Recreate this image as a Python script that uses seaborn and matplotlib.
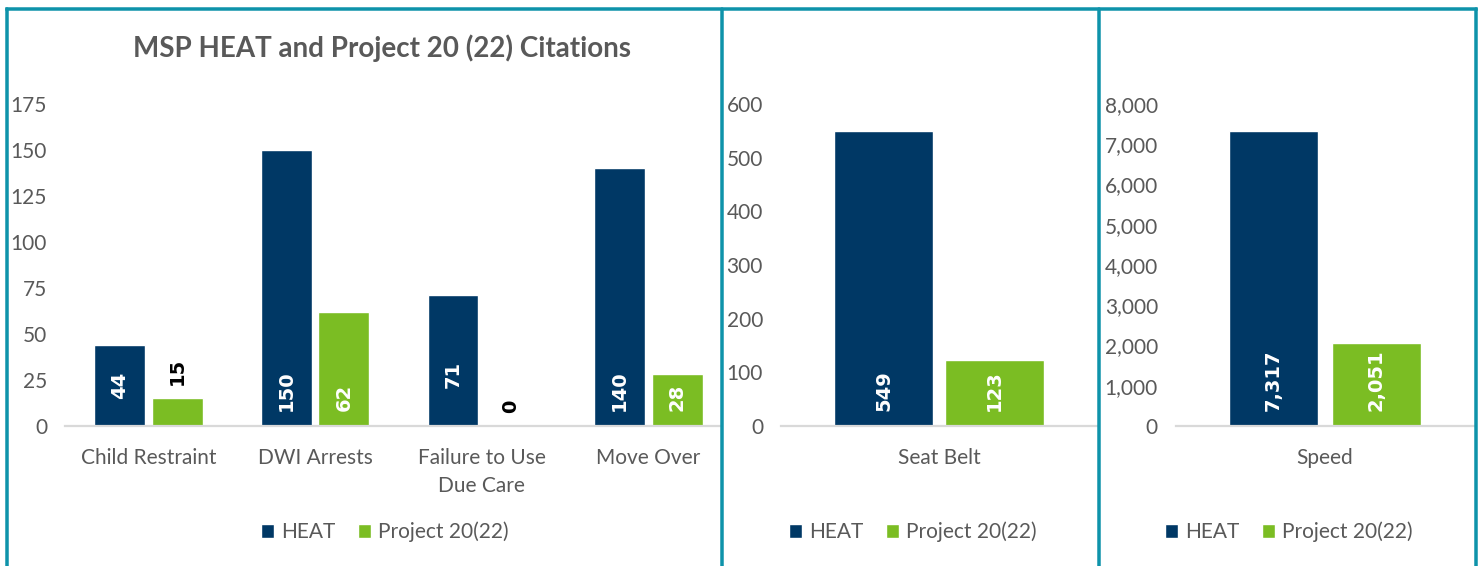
"""
MSP HEAT vs Project 20(22) citations - three panel bar chart
"""
import matplotlib
matplotlib.use('Agg')
import matplotlib.pyplot as plt
from matplotlib.patches import Patch
from matplotlib.lines import Line2D
from matplotlib.ticker import FuncFormatter
import pandas as pd
import seaborn as sns

W, H, DPI = 1479, 566, 100

series = ['HEAT', 'Project 20(22)']

cats_a = ['Child Restraint', 'DWI Arrests', 'Failure to Use\nDue Care', 'Move Over']
heat_a = [44, 150, 71, 140]
proj_a = [15, 62, 0, 28]

cats_b = ['Seat Belt']
heat_b = [549]
proj_b = [123]

cats_c = ['Speed']
heat_c = [7317]
proj_c = [2051]

yticks_a = [0, 25, 50, 75, 100, 125, 150, 175]
yticks_b = [0, 100, 200, 300, 400, 500, 600]
yticks_c = [0, 1000, 2000, 3000, 4000, 5000, 6000, 7000, 8000]

title = 'MSP HEAT and Project 20 (22) Citations'

NAVY = '#003865'
GREEN = '#7BBD23'
TEAL = '#0E93AA'
GREY = '#595959'
AXIS = '#D9D9D9'
FONT = 'Lato'

# hand-moved labels in the source (extra px above the default spot)
nudge_a = {(0, 0): 12, (0, 2): 23}


def frame(cats, heat, proj):
    return pd.DataFrame({
        'category': cats * 2,
        'series': [series[0]] * len(cats) + [series[1]] * len(cats),
        'value': heat + proj,
    })


def px2pt(p):
    return p * 72 / DPI


def panel(fig, rect, df, yticks, xmax, width, gap, nudge=None):
    ax = fig.add_axes(rect)
    sns.barplot(data=df, x='category', y='value', hue='series', hue_order=series,
                palette=[NAVY, GREEN], width=width, gap=gap, errorbar=None,
                saturation=1, legend=False, ax=ax)
    ax.set_ylim(0, yticks[-1])
    ax.set_yticks(yticks)
    ax.yaxis.set_major_formatter(FuncFormatter(lambda v, p: f'{v:,.0f}'))
    ax.set_xlim(-0.5, xmax)
    ax.set_xlabel('')
    ax.set_ylabel('')
    for s in ['top', 'right', 'left']:
        ax.spines[s].set_visible(False)
    ax.spines['bottom'].set_color(AXIS)
    ax.spines['bottom'].set_linewidth(1.6)
    ax.tick_params(axis='both', length=0, colors=GREY, labelsize=15)
    ax.tick_params(axis='y', pad=px2pt(18))
    ax.tick_params(axis='x', pad=px2pt(22))
    for lab in ax.get_xticklabels() + ax.get_yticklabels():
        lab.set_fontfamily(FONT)
        lab.set_linespacing(1.5)
    ax.grid(False)

    h_px = rect[3] * H
    for si, cont in enumerate(ax.containers):
        for i, bar in enumerate(cont):
            v = bar.get_height()
            x = bar.get_x() + bar.get_width() / 2
            txt = f'{v:,.0f}'
            if v / yticks[-1] * h_px < 40:
                ax.annotate(txt, (x, v), xytext=(0, px2pt(13)), textcoords='offset points',
                            rotation=90, ha='center', va='bottom', fontsize=14,
                            fontweight='bold', color='black', family='DejaVu Sans')
            else:
                off = 15 + (nudge or {}).get((si, i), 0)
                ax.annotate(txt, (x, 0), xytext=(0, px2pt(off)), textcoords='offset points',
                            rotation=90, ha='center', va='bottom', fontsize=14,
                            fontweight='bold', color='white', family='DejaVu Sans')
    return ax


def legend(fig, cx):
    handles = [Patch(facecolor=NAVY), Patch(facecolor=GREEN)]
    fig.legend(handles, series, loc='center', bbox_to_anchor=(cx / W, 1 - 532 / H),
               ncol=2, frameon=False, handlelength=0.6, handleheight=0.6,
               handletextpad=0.35, columnspacing=1.1,
               prop={'family': FONT, 'size': 15}, labelcolor=GREY)


def main():
    sns.set_style('white')
    fig = plt.figure(figsize=(W / DPI, H / DPI), dpi=DPI)
    fig.patch.set_facecolor('white')

    bottom = (H - 426) / H
    height = 322 / H

    panel(fig, [65 / W, bottom, 655 / W, height], frame(cats_a, heat_a, proj_a),
          yticks_a, -0.5 + 655 / 166.7, 0.69, 0.115, nudge_a)
    panel(fig, [781 / W, bottom, 316 / W, height], frame(cats_b, heat_b, proj_b),
          yticks_b, 0.5, 0.70, 0.11)
    panel(fig, [1176 / W, bottom, 298 / W, height], frame(cats_c, heat_c, proj_c),
          yticks_c, 0.5, 0.69, 0.13)

    fig.text(382 / W, 1 - 48 / H, title, ha='center', va='center', fontsize=20,
             fontweight='bold', color=GREY, family=FONT)

    legend(fig, 385)
    legend(fig, 913)
    legend(fig, 1289)

    # teal frame around the three chart boxes
    lw = px2pt(3.5)
    ytop = 1 - 8.5 / H
    fig.add_artist(Line2D([7 / W, 1476 / W], [ytop, ytop], transform=fig.transFigure,
                          color=TEAL, lw=lw, solid_capstyle='projecting'))
    for xp in [7, 722, 1099, 1476]:
        fig.add_artist(Line2D([xp / W, xp / W], [0, ytop], transform=fig.transFigure,
                              color=TEAL, lw=lw))

    fig.savefig('out.png', dpi=DPI, facecolor='white')
    plt.close(fig)


if __name__ == '__main__':
    main()
